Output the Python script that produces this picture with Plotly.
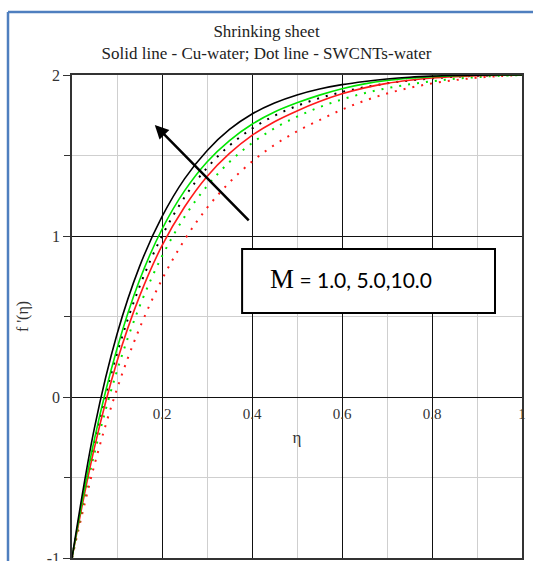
import plotly.graph_objects as go

# Similarity variable grid (uniform step 0.05)
eta = [0, 0.05, 0.1, 0.15, 0.2, 0.25, 0.3, 0.35, 0.4, 0.45, 0.5,
       0.55, 0.6, 0.65, 0.7, 0.75, 0.8, 0.85, 0.9, 0.95, 1.0]

# f'(eta) profiles, Cu-water (solid)
cu_black = [-1, -0.19, 0.39, 0.81, 1.12, 1.355, 1.53, 1.662, 1.758, 1.826, 1.876,
            1.913, 1.94, 1.96, 1.975, 1.986, 1.993, 1.997, 1.999, 2.0, 2.0]
cu_green = [-1, -0.26, 0.30, 0.725, 1.042, 1.28, 1.46, 1.593, 1.694, 1.77, 1.827,
            1.875, 1.915, 1.945, 1.966, 1.98, 1.99, 1.995, 1.998, 2.0, 2.0]
cu_red = [-1, -0.313, 0.22, 0.625, 0.94, 1.18, 1.37, 1.513, 1.625, 1.71, 1.777,
          1.835, 1.883, 1.92, 1.948, 1.967, 1.981, 1.99, 1.996, 1.999, 2.0]

# f'(eta) profiles, SWCNTs-water (dotted)
sw_black = [-1, -0.28, 0.27, 0.685, 1.0, 1.24, 1.423, 1.562, 1.667, 1.747, 1.808,
            1.856, 1.894, 1.924, 1.948, 1.966, 1.979, 1.989, 1.995, 1.999, 2.0]
sw_green = [-1, -0.348, 0.162, 0.562, 0.874, 1.119, 1.31, 1.46, 1.577, 1.669, 1.741,
            1.80, 1.848, 1.887, 1.918, 1.942, 1.961, 1.976, 1.987, 1.995, 2.0]
sw_red = [-1, -0.42, 0.05, 0.426, 0.73, 0.976, 1.174, 1.333, 1.462, 1.566, 1.65,
          1.72, 1.785, 1.84, 1.885, 1.92, 1.948, 1.968, 1.983, 1.993, 2.0]

x_ticks = [0.2, 0.4, 0.6, 0.8, 1]
x_tick_text = ["0.2", "0.4", "0.6", "0.8", "1"]
y_ticks = [-1, 0, 1, 2]
y_tick_text = ["-1", "0", "1", "2"]

title_lines = ["Shrinking sheet", "Solid line - Cu-water; Dot line - SWCNTs-water"]
box_label = "M"
box_values = "= 1.0, 5.0,10.0"

GREEN = "#00e600"
RED = "#ff1a1a"
BLACK = "#000000"
SERIF = "Liberation Serif"

fig = go.Figure()

for ys, col in [(sw_red, RED), (sw_green, GREEN), (sw_black, BLACK)]:
    fig.add_trace(go.Scatter(x=eta, y=ys, mode="lines",
                             line=dict(color=col, width=2, dash="2px,7px", shape="spline", smoothing=1),
                             hoverinfo="skip"))
for ys, col in [(cu_red, RED), (cu_green, GREEN), (cu_black, BLACK)]:
    fig.add_trace(go.Scatter(x=eta, y=ys, mode="lines",
                             line=dict(color=col, width=1.6, shape="spline", smoothing=1),
                             hoverinfo="skip"))

# overlay axis carrying the eta labels along f' = 0
fig.add_trace(go.Scatter(x=[0, 1], y=[0, 0], xaxis="x2", mode="lines",
                         line=dict(width=0), hoverinfo="skip"))

fig.update_layout(
    width=533, height=561,
    margin=dict(l=72, r=11, t=75, b=3),
    paper_bgcolor="white", plot_bgcolor="white",
    showlegend=False,
    title=dict(text="<br>".join(title_lines), x=0.5, xref="container", xanchor="center",
               y=1 - 37 / 561, yref="container", yanchor="top",
               font=dict(family=SERIF, size=17, color="#222")),
    xaxis=dict(range=[0, 1], dtick=0.2, showticklabels=False, ticks="",
               showgrid=True, gridcolor="#111", gridwidth=1.3,
               minor=dict(dtick=0.1, showgrid=True, gridcolor="#cfcfcf", gridwidth=1.3),
               showline=True, linecolor="#333", linewidth=1.5, mirror=True, zeroline=False),
    xaxis2=dict(range=[0, 1], overlaying="x", anchor="free", position=1 / 3,
                tickvals=x_ticks, ticktext=x_tick_text, ticks="", showgrid=False,
                showline=False, zeroline=False, ticklabelstandoff=6,
                tickfont=dict(family=SERIF, size=15, color="#333"),
                title=dict(text="η", font=dict(family=SERIF, size=17, color="#333"), standoff=10)),
    yaxis=dict(range=[-1, 2], tickvals=y_ticks, ticktext=y_tick_text,
               showgrid=True, gridcolor="#111", gridwidth=1.3,
               minor=dict(dtick=0.5, showgrid=True, gridcolor="#cfcfcf", gridwidth=1.3,
                          ticks="outside", ticklen=6, tickcolor="#333"),
               ticks="outside", ticklen=7, tickcolor="#333", tickwidth=1.3,
               ticklabeloverflow="allow", automargin=False,
               tickfont=dict(family=SERIF, size=16, color="#333"),
               showline=True, linecolor="#333", linewidth=1.5, mirror=True, zeroline=False,
               title=dict(text="f '(η)", font=dict(family=SERIF, size=16, color="#333"), standoff=14)),
)

# label box
fig.add_shape(type="rect", xref="x", yref="y", x0=0.378, x1=0.94, y0=0.522, y1=0.919,
              line=dict(color="black", width=2), fillcolor="white", layer="above")
fig.add_annotation(x=0.436, y=0.735, xref="x", yref="y", xanchor="left", yanchor="middle",
                   showarrow=False,
                   text=f"<span style='font-family:Liberation Serif;font-size:27px'>{box_label}</span>"
                        f"<span style='font-size:21px'> {box_values}</span>",
                   font=dict(family="Lato, Liberation Sans, sans-serif", size=21, color="black"))

# arrow showing increasing M
fig.add_annotation(x=0.184, y=1.69, ax=0.396, ay=1.087, xref="x", yref="y", axref="x", ayref="y",
                   showarrow=True, arrowhead=2, arrowsize=1.1, arrowwidth=2.5, arrowcolor="black", text="")

# outer frame lines
fig.add_shape(type="line", xref="paper", yref="paper", x0=-64 / 450, x1=-64 / 450,
              y0=1 + 63 / 483, y1=-0.1, line=dict(color="#4f7fbf", width=2.5))
fig.add_shape(type="line", xref="paper", yref="paper", x0=-64 / 450, x1=1.1,
              y0=1 + 63 / 483, y1=1 + 63 / 483, line=dict(color="#4f7fbf", width=2.5))

fig.write_html("out.html")
